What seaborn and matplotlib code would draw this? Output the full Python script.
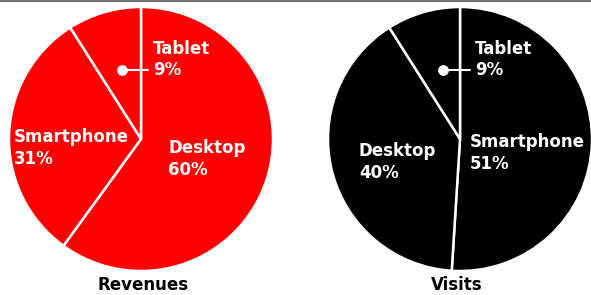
import matplotlib
matplotlib.use("Agg")
import matplotlib.pyplot as plt
import seaborn as sns

sns.set_theme(style="white")
plt.rcParams['font.family'] = ['DejaVu Sans']

# Data
rev_labels = ["Desktop", "Smartphone", "Tablet"]
rev_values = [60, 31, 9]
vis_labels = ["Smartphone", "Desktop", "Tablet"]
vis_values = [51, 40, 9]
titles = ["Revenues", "Visits"]

W, H = 591, 295
fig = plt.figure(figsize=(W / 100, H / 100), dpi=100)
ax = fig.add_axes([0, 0, 1, 1])

def py(y):
    return H - y

RED = "#FF0000"
BLACK = "#000000"
R = 132
FS = 12

pies = [
    dict(values=rev_values, labels=rev_labels, color=RED, cx=141, cy=139,
         pos={"Tablet": (153, 59.5), "Smartphone": (14, 148), "Desktop": (168, 159)},
         dot=(122, 70, 148), title_x=143),
    dict(values=vis_values, labels=vis_labels, color=BLACK, cx=460, cy=139,
         pos={"Tablet": (475, 59.5), "Smartphone": (470, 153), "Desktop": (359, 162)},
         dot=(443, 70, 470), title_x=457),
]

for i, p in enumerate(pies):
    ax.pie(p["values"], startangle=90, counterclock=False,
           colors=[p["color"]] * len(p["values"]),
           center=(p["cx"], py(p["cy"])), radius=R, frame=True,
           wedgeprops=dict(edgecolor="white", linewidth=1.8))
    for lab, val in zip(p["labels"], p["values"]):
        x, y = p["pos"][lab]
        ax.text(x, py(y), f"{lab}\n{val}%", color="white", fontsize=FS,
                fontweight="bold", ha="left", va="center", linespacing=1.25)
    dx, dy, lx = p["dot"]
    ax.plot([dx, lx], [py(dy), py(dy)], color="white", lw=1.5, zorder=5)
    ax.scatter([dx], [py(dy)], s=60, color="white", zorder=6, linewidths=0)
    ax.text(p["title_x"], py(285), titles[i], color="black", fontsize=FS,
            fontweight="bold", ha="center", va="center")

ax.plot([0, W], [H - 0.8, H - 0.8], color="#777777", lw=1.6, solid_capstyle="butt")

ax.set_xlim(0, W)
ax.set_ylim(0, H)
ax.set_aspect("auto")
ax.axis("off")

fig.savefig("out.png", dpi=100)
